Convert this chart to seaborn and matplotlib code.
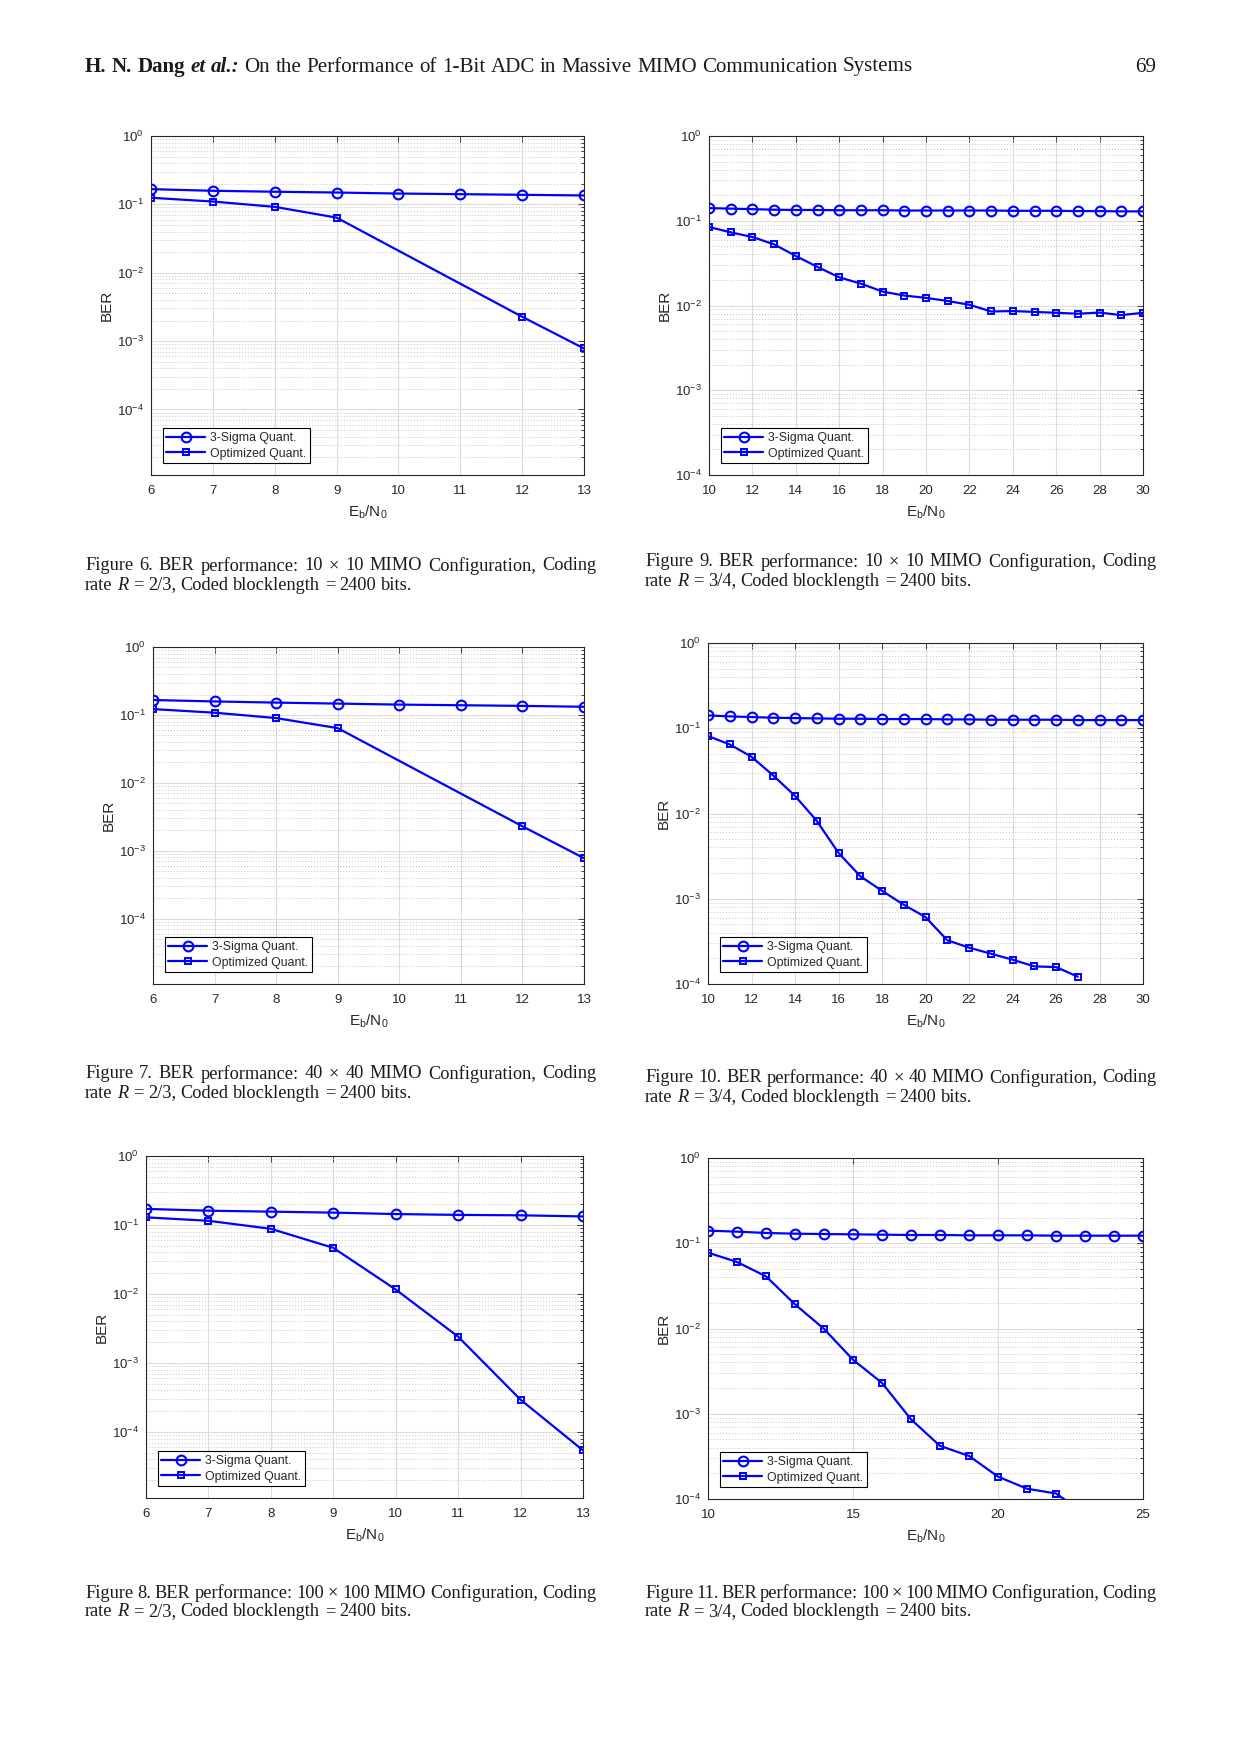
import matplotlib
matplotlib.use("Agg")
import matplotlib.pyplot as plt
import seaborn as sns
from matplotlib.ticker import LogLocator, NullFormatter, MultipleLocator
from matplotlib.transforms import IdentityTransform

# ---- data ----
snr_a = [6, 7, 8, 9, 10, 11, 12, 13]
snr_a_opt = [6, 7, 8, 9, 12, 13]
snr_b = list(range(10, 31))
snr_b_opt = list(range(10, 28))
snr_c = list(range(10, 26))
snr_c_opt = list(range(10, 24))

f6_sigma = [0.167, 0.158, 0.153, 0.149, 0.144, 0.141, 0.138, 0.135]
f6_opt = [0.125, 0.110, 0.092, 0.064, 2.27e-3, 7.8e-4]

f7_sigma = [0.166, 0.158, 0.152, 0.147, 0.142, 0.139, 0.136, 0.132]
f7_opt = [0.122, 0.108, 0.090, 0.064, 2.3e-3, 7.8e-4]

f8_sigma = [0.171, 0.161, 0.156, 0.151, 0.144, 0.140, 0.138, 0.133]
f8_opt = [0.129, 0.115, 0.088, 0.0466, 0.0116, 2.4e-3, 2.93e-4, 5.4e-5]

f9_sigma = [0.141, 0.139, 0.137, 0.135, 0.134, 0.134, 0.133, 0.133, 0.133, 0.132, 0.132,
            0.132, 0.132, 0.132, 0.131, 0.131, 0.131, 0.130, 0.130, 0.129, 0.129]
f9_opt = [0.0844, 0.073, 0.0643, 0.0527, 0.0384, 0.0285, 0.0215, 0.0181, 0.0146, 0.0131, 0.0123,
          0.0113, 0.0102, 8.5e-3, 8.6e-3, 8.4e-3, 8.2e-3, 8.0e-3, 8.25e-3, 7.7e-3, 8.2e-3]

f10_sigma = [0.1415, 0.1377, 0.1353, 0.1329, 0.1317, 0.1304, 0.1293, 0.1293, 0.1282, 0.1282, 0.1282,
             0.127, 0.127, 0.1259, 0.1259, 0.1259, 0.1259, 0.1247, 0.1247, 0.1247, 0.1247]
f10_opt = [0.081, 0.0646, 0.0463, 0.0279, 0.0161, 8.2e-3, 3.45e-3, 1.84e-3, 1.24e-3,
           8.5e-4, 6.1e-4, 3.26e-4, 2.67e-4, 2.27e-4, 1.93e-4, 1.61e-4, 1.58e-4, 1.22e-4]

f11_sigma = [0.1405, 0.1368, 0.132, 0.1295, 0.1283, 0.1272, 0.1261, 0.125,
             0.125, 0.1238, 0.1238, 0.1238, 0.1227, 0.1227, 0.1227, 0.1227]
f11_opt = [0.0776, 0.0603, 0.0409, 0.0192, 9.9e-3, 4.3e-3, 2.3e-3, 8.6e-4,
           4.2e-4, 3.2e-4, 1.83e-4, 1.32e-4, 1.16e-4, 6.7e-5]

captions = [
    (6, "10", "2/3"), (9, "10", "3/4"),
    (7, "40", "2/3"), (10, "40", "3/4"),
    (8, "100", "2/3"), (11, "100", "3/4"),
]

sns.set_theme(style="white")
plt.rcParams['font.family'] = ['Liberation Sans', 'DejaVu Sans']
plt.rcParams['mathtext.default'] = 'regular'
plt.rcParams['axes.unicode_minus'] = False

W, H = 1240, 1753
fig = plt.figure(figsize=(W / 100, H / 100), dpi=100)
fig.patch.set_facecolor("white")

BLUE = "#0000ff"
DARK = "#262626"


def add_ax(l, r, t, b):
    return fig.add_axes([l / W, 1 - b / H, (r - l) / W, (b - t) / H])


def ber_plot(ax, xs, ys, xo, yo, xlim, step, ymin):
    sns.lineplot(x=xs, y=ys, ax=ax, color=BLUE, lw=1.6, marker='o', ms=7,
                 mfc='none', mec=BLUE, mew=1.5, label='3-Sigma Quant.')
    sns.lineplot(x=xo, y=yo, ax=ax, color=BLUE, lw=1.6, marker='s', ms=5,
                 mfc='none', mec=BLUE, mew=1.4, label='Optimized Quant.')
    ax.set_yscale('log')
    ax.set_xlim(*xlim)
    ax.set_ylim(ymin, 1)
    ax.xaxis.set_major_locator(MultipleLocator(step))
    ax.yaxis.set_major_locator(LogLocator(base=10, numticks=10))
    ax.yaxis.set_minor_locator(LogLocator(base=10, subs=range(2, 10), numticks=10))
    ax.yaxis.set_minor_formatter(NullFormatter())
    ax.grid(True, which='major', color='#dcdcdc', lw=0.8, ls='-')
    ax.grid(True, which='minor', axis='y', color='#c4c4c4', lw=0.7, ls=(0, (1, 2)))
    ax.set_axisbelow(True)
    for s in ax.spines.values():
        s.set_color(DARK)
        s.set_linewidth(0.8)
    ax.tick_params(which='both', direction='in', top=True, right=True,
                   color=DARK, labelcolor=DARK, labelsize=9.5, width=0.6)
    ax.tick_params(which='major', length=4, pad=5)
    ax.tick_params(axis='x', which='major', pad=7)
    ax.tick_params(which='minor', length=2)
    ax.set_xlabel('E$_b$/N$_0$', fontsize=11, color=DARK, labelpad=5)
    ax.set_ylabel('BER', fontsize=11, color=DARK, labelpad=2)
    leg = ax.legend(loc='lower left', fontsize=8.8, frameon=True, fancybox=False,
                    framealpha=1, edgecolor='black', handlelength=3.2,
                    borderaxespad=0.95, labelspacing=0.3, borderpad=0.3,
                    handletextpad=0.4)
    leg.get_frame().set_linewidth(0.8)


ax6 = add_ax(151, 584, 136, 475)
ber_plot(ax6, snr_a, f6_sigma, snr_a_opt, f6_opt, (6, 13), 1, 1.1e-5)
ax9 = add_ax(709, 1143, 136, 475)
ber_plot(ax9, snr_b, f9_sigma, snr_b, f9_opt, (10, 30), 2, 1e-4)
ax7 = add_ax(153, 584, 647, 984)
ber_plot(ax7, snr_a, f7_sigma, snr_a_opt, f7_opt, (6, 13), 1, 1.1e-5)
ax10 = add_ax(708, 1143, 643, 984)
ber_plot(ax10, snr_b, f10_sigma, snr_b_opt, f10_opt, (10, 30), 2, 1e-4)
ax8 = add_ax(146, 583, 1156, 1498)
ber_plot(ax8, snr_a, f8_sigma, snr_a, f8_opt, (6, 13), 1, 1.1e-5)
ax11 = add_ax(708, 1143, 1158, 1499)
ber_plot(ax11, snr_c, f11_sigma, snr_c_opt, f11_opt, (10, 25), 5, 1e-4)

# ---- page text (pixel coordinates, y from top) ----
renderer = fig.canvas.get_renderer()
SERIF = ['Liberation Serif', 'DejaVu Serif']


def put_words(words, x0, y, size, width=None):
    arts = []
    for w, weight, style in words:
        t = fig.text(0, H - y, w, fontsize=size, family=SERIF, weight=weight,
                     style=style, va='center', ha='left', transform=IdentityTransform(),
                     color='#1a1a1a')
        arts.append((t, t.get_window_extent(renderer).width))
    space = size * 100 / 72 * 0.25
    total = sum(wd for _, wd in arts)
    if width is not None and len(arts) > 1:
        space = (width - total) / (len(arts) - 1)
    x = x0
    for t, wd in arts:
        t.set_x(x)
        x += wd + space


def plain(s):
    return [(w, 'normal', 'normal') for w in s.split()]


header = ([("H.", 'bold', 'normal'), ("N.", 'bold', 'normal'), ("Dang", 'bold', 'normal'),
           ("et", 'bold', 'italic'), ("al.:", 'bold', 'italic')]
          + plain("On the Performance of 1-Bit ADC in Massive MIMO Communication Systems"))
put_words(header, 85, 67, 15.1)
fig.text(1156, H - 67, "69", fontsize=15.1, family=SERIF, ha='right', va='center',
         transform=IdentityTransform(), color='#1a1a1a')

cap_pos = [(85, 566), (645, 562), (85, 1074), (645, 1078), (85, 1593), (645, 1593)]
for (num, m, rate), (cx, cy) in zip(captions, cap_pos):
    line1 = plain(f"Figure {num}. BER performance: {m} \u00d7 {m} MIMO Configuration, Coding")
    put_words(line1, cx, cy, 13.2, width=511)
    line2 = (plain("rate") + [("R", 'normal', 'italic')]
             + plain(f"= {rate}, Coded blocklength = 2400 bits."))
    put_words(line2, cx, cy + 19, 13.2)

fig.savefig("out.png", dpi=100)
